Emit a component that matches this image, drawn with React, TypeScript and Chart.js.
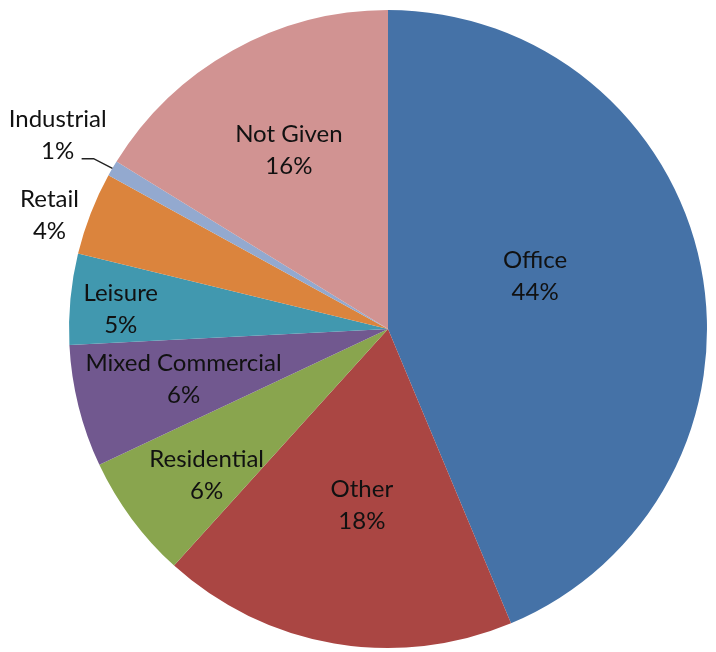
import React, { useEffect, useRef } from "react";
import { Chart, registerables } from "chart.js";

Chart.register(...registerables);

const categories = ["Office", "Other", "Residential", "Mixed Commercial", "Leisure", "Retail", "Industrial", "Not Given"];
const values = [43.7, 18.0, 6.3, 6.2, 4.6, 4.2, 0.8, 16.2];
const percentLabels = ["44%", "18%", "6%", "6%", "5%", "4%", "1%", "16%"];
const colors = ["#4572A7", "#AA4643", "#89A54E", "#71588F", "#4198AF", "#DB843D", "#93A9CF", "#D19392"];

// label placement relative to each arc: fraction of outer radius and angle offset (deg)
const labelPlacement = [
  { r: 0.49, da: -8.4, leader: false },
  { r: 0.56, da: -1.3, leader: false },
  { r: 0.73, da: -2.3, leader: false },
  { r: 0.66, da: 0.2, leader: false },
  { r: 0.84, da: -1.2, leader: false },
  { r: 1.12, da: -2.6, leader: false },
  { r: 1.2, da: 0.1, leader: true },
  { r: 0.64, da: 0.1, leader: false },
];

const labelPlugin = {
  id: "sliceLabels",
  afterDatasetsDraw(chart: any) {
    const ctx = chart.ctx;
    const meta = chart.getDatasetMeta(0);
    ctx.save();
    ctx.font = "24px Lato";
    ctx.fillStyle = "#111111";
    ctx.textAlign = "center";
    ctx.textBaseline = "middle";
    const lineH = 32;
    meta.data.forEach((arc: any, i: number) => {
      const p = arc.getProps(["x", "y", "startAngle", "endAngle", "outerRadius"], true);
      const mid = (p.startAngle + p.endAngle) / 2;
      const pl = labelPlacement[i];
      const a = mid + (pl.da * Math.PI) / 180;
      const lx = p.x + Math.cos(a) * p.outerRadius * pl.r;
      const ly = p.y + Math.sin(a) * p.outerRadius * pl.r;
      ctx.fillText(categories[i], lx, ly - lineH / 2);
      ctx.fillText(percentLabels[i], lx, ly + lineH / 2);
      if (pl.leader) {
        const ex = p.x + Math.cos(mid) * p.outerRadius;
        const ey = p.y + Math.sin(mid) * p.outerRadius;
        const sx = lx + 24;
        const sy = ly + lineH / 2 + 7;
        ctx.beginPath();
        ctx.strokeStyle = "#222222";
        ctx.lineWidth = 1.5;
        ctx.moveTo(sx, sy);
        ctx.lineTo(sx + 12, sy);
        ctx.lineTo(ex, ey);
        ctx.stroke();
      }
    });
    ctx.restore();
  },
};

export default function App() {
  const ref = useRef<HTMLCanvasElement | null>(null);
  useEffect(() => {
    if (!ref.current) return;
    const chart = new Chart(ref.current, {
      type: "pie",
      data: {
        labels: categories,
        datasets: [
          {
            data: values,
            backgroundColor: colors,
            borderWidth: 0,
          },
        ],
      },
      options: {
        responsive: false,
        animation: false,
        layout: { padding: { left: 69, right: 9, top: 10, bottom: 4 } },
        plugins: {
          legend: { display: false },
          tooltip: { enabled: false },
        },
      },
      plugins: [labelPlugin],
    });
    return () => chart.destroy();
  }, []);
  return (
    <div style={{ position: "absolute", left: 0, top: 0, width: 716, height: 652, background: "#fff" }}>
      <canvas ref={ref} width={716} height={652} style={{ display: "block" }} />
    </div>
  );
}
